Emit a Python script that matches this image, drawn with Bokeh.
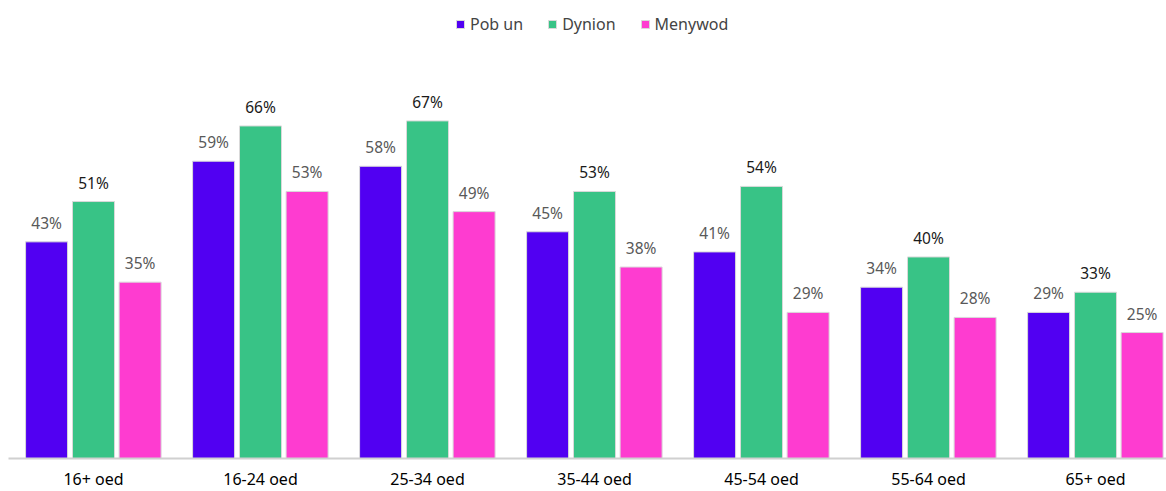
from bokeh.plotting import figure
from bokeh.models import ColumnDataSource, Range1d, Legend, LegendItem, FixedTicker
from bokeh.transform import dodge
from bokeh.core.properties import value
from bokeh.embed import file_html
from bokeh.resources import INLINE

categories = ["16+ oed", "16-24 oed", "25-34 oed", "35-44 oed", "45-54 oed", "55-64 oed", "65+ oed"]
pob_un = [43, 59, 58, 45, 41, 34, 29]
dynion = [51, 66, 67, 53, 54, 40, 33]
menywod = [35, 53, 49, 38, 29, 28, 25]
series_names = ["Pob un", "Dynion", "Menywod"]

colors = ["#5100f2", "#38c386", "#fe3cd0"]
label_colors = ["#595959", "#1a1a1a", "#595959"]
FONT = "Noto Sans"

xpos = list(range(len(categories)))
src = ColumnDataSource(dict(
    x=xpos,
    pob=pob_un, dyn=dynion, men=menywod,
    pob_l=[f"{v}%" for v in pob_un],
    dyn_l=[f"{v}%" for v in dynion],
    men_l=[f"{v}%" for v in menywod],
))

p = figure(frame_width=1158, frame_height=458, output_backend="svg",
           toolbar_location=None, min_border_left=8, min_border_right=0,
           min_border_top=0, min_border_bottom=0)
p.x_range = Range1d(-0.509, 6.425)
p.y_range = Range1d(0, 90.9)
p.outline_line_color = None
p.xgrid.grid_line_color = None
p.ygrid.grid_line_color = None
p.yaxis.visible = False
p.xaxis.ticker = FixedTicker(ticks=xpos)
p.xaxis.major_label_overrides = {i: c for i, c in zip(xpos, categories)}
p.xaxis.axis_line_color = "#d0d0d0"
p.xaxis.axis_line_width = 2
p.xaxis.major_tick_line_color = None
p.xaxis.minor_tick_line_color = None
p.xaxis.major_tick_out = 0
p.xaxis.major_tick_in = 0
p.xaxis.minor_tick_out = 0
p.xaxis.major_label_text_font = FONT
p.xaxis.major_label_text_font_size = "16px"
p.xaxis.major_label_text_color = "#000000"
p.xaxis.major_label_standoff = 9

offs = [-0.281, 0.0, 0.279]
cols = ["pob", "dyn", "men"]
items = []
for i, (c, off) in enumerate(zip(cols, offs)):
    r = p.vbar(x=dodge("x", off), top=c, width=0.2515, source=src,
               fill_color=colors[i], line_color="#d9d9d9", line_width=1)
    items.append(LegendItem(label=series_names[i], renderers=[r]))
    p.text(x=dodge("x", off), y=c, text=c + "_l", source=src,
           text_align="center", text_baseline="bottom", y_offset=-8,
           text_font=value(FONT), text_font_size="15.5px", text_color=label_colors[i])

legend = Legend(items=items, orientation="horizontal", location=(447, 423),
                border_line_color=None, background_fill_alpha=0,
                label_text_font=FONT, label_text_font_size="16px",
                glyph_width=10, glyph_height=10, spacing=24, label_standoff=5,
                margin=0, padding=0)
p.add_layout(legend, "center")

open("out.html", "w").write(file_html(p, INLINE))
